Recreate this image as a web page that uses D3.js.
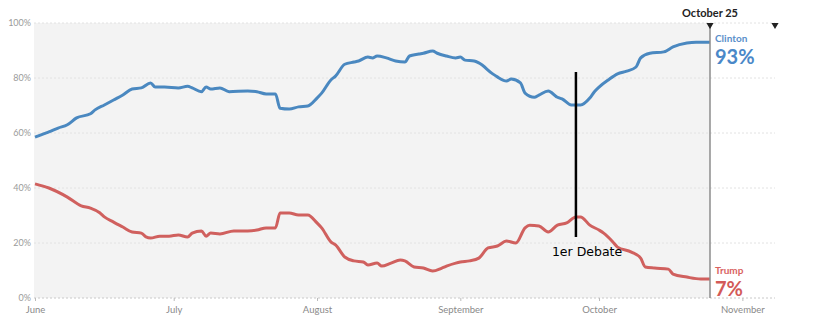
<!DOCTYPE html>
<html><head><meta charset="utf-8">
<script src="https://cdn.jsdelivr.net/npm/d3@7"></script>
<style>body{margin:0;background:#fff}svg{display:block}</style>
</head><body><svg id="c" width="817" height="335"></svg>
<script>
const clintonDates = ["2016-06-01","2016-06-03","2016-06-04","2016-06-06","2016-06-08","2016-06-10","2016-06-13","2016-06-14","2016-06-16","2016-06-18","2016-06-20","2016-06-22","2016-06-24","2016-06-26","2016-06-27","2016-06-29","2016-07-02","2016-07-04","2016-07-05","2016-07-07","2016-07-08","2016-07-09","2016-07-11","2016-07-13","2016-07-17","2016-07-19","2016-07-21","2016-07-23","2016-07-24","2016-07-26","2016-07-28","2016-07-30","2016-08-01","2016-08-02","2016-08-04","2016-08-05","2016-08-07","2016-08-09","2016-08-10","2016-08-12","2016-08-13","2016-08-14","2016-08-16","2016-08-18","2016-08-20","2016-08-21","2016-08-23","2016-08-24","2016-08-26","2016-08-27","2016-08-29","2016-08-31","2016-09-01","2016-09-02","2016-09-04","2016-09-05","2016-09-08","2016-09-09","2016-09-11","2016-09-12","2016-09-14","2016-09-15","2016-09-17","2016-09-18","2016-09-20","2016-09-22","2016-09-23","2016-09-25","2016-09-27","2016-09-29","2016-09-30","2016-10-01","2016-10-03","2016-10-05","2016-10-07","2016-10-09","2016-10-10","2016-10-12","2016-10-15","2016-10-17","2016-10-20","2016-10-22","2016-10-25"];
const clintonValues = [58.5,59.8,60.4,61.8,63,65.5,67,68.4,70.2,72,73.8,76,76.4,78.2,76.7,76.7,76.4,77,76.4,75,76.7,76,76.4,75,75.3,75,74.2,74.2,69,68.7,69.5,69.8,72.7,74.5,79.3,80.7,85,85.8,86.2,87.6,87.3,88,87.3,86.2,85.8,88,88.7,89,89.8,89,88,87.3,87.6,86.5,86.2,85.5,81.5,80.4,78.9,79.6,78.2,74.5,73,73.8,75.3,73,72.4,70.2,70.2,72.7,75,76.7,79.3,81.5,82.5,84,87.3,89,89.5,91.3,92.7,93,93];
const trumpDates = ["2016-06-01","2016-06-04","2016-06-08","2016-06-11","2016-06-13","2016-06-15","2016-06-16","2016-06-18","2016-06-20","2016-06-22","2016-06-24","2016-06-25","2016-06-26","2016-06-28","2016-06-30","2016-07-02","2016-07-04","2016-07-05","2016-07-07","2016-07-08","2016-07-09","2016-07-11","2016-07-14","2016-07-17","2016-07-19","2016-07-21","2016-07-23","2016-07-24","2016-07-26","2016-07-28","2016-07-30","2016-08-01","2016-08-02","2016-08-04","2016-08-05","2016-08-07","2016-08-09","2016-08-11","2016-08-12","2016-08-14","2016-08-15","2016-08-17","2016-08-19","2016-08-20","2016-08-22","2016-08-24","2016-08-26","2016-08-28","2016-08-29","2016-08-31","2016-09-01","2016-09-03","2016-09-05","2016-09-07","2016-09-09","2016-09-11","2016-09-13","2016-09-15","2016-09-16","2016-09-18","2016-09-20","2016-09-22","2016-09-24","2016-09-26","2016-09-27","2016-09-29","2016-10-01","2016-10-02","2016-10-04","2016-10-05","2016-10-08","2016-10-10","2016-10-11","2016-10-13","2016-10-16","2016-10-17","2016-10-20","2016-10-23","2016-10-25"];
const trumpValues = [41.5,40,36.7,33.5,32.7,31,29.5,27.6,25.8,24,23.6,22.2,21.8,22.5,22.5,22.9,22.2,23.6,24.4,22.5,23.6,23.3,24.4,24.4,24.7,25.5,25.5,30.9,30.9,30.2,30.2,27.3,25.5,20.4,19.3,14.9,13.5,13.1,12,12.7,11.6,12.7,13.8,13.5,11.3,10.9,9.8,10.9,11.6,12.7,13.1,13.5,14.5,18.2,18.9,20.7,20,25.5,26.5,26.2,24,26.5,27.3,29.5,29.5,26.5,24.7,23.6,20.4,18.5,16.7,14.5,11.3,10.9,10.5,8.7,7.6,6.9,6.9];
const yTicks = [0,20,40,60,80,100];
const monthTicks = ["2016-06-01","2016-07-01","2016-08-01","2016-09-01","2016-10-01","2016-11-01"];
const monthLabels = ["June","July","August","September","October","November"];
const currentDate = "2016-10-25";
const currentLabel = "October 25";
const debateDate = "2016-09-26";
const debateLabel = "1er Debate";
const clintonName = "Clinton", clintonFinal = "93%";
const trumpName = "Trump", trumpFinal = "7%";

const parse = d3.timeParse("%Y-%m-%d");
const svg = d3.select("#c");
const x = d3.scaleTime().domain([parse("2016-06-01"), parse(currentDate)]).range([35, 710]);
const y = d3.scaleLinear().domain([0,100]).range([298, 23]);
const left = 34, right = 775, cx = x(parse(currentDate));

svg.append("rect").attr("x", left).attr("y", y(100)).attr("width", cx-left).attr("height", y(0)-y(100)).attr("fill", "#f3f3f3");

// gridlines
svg.append("g").selectAll("line").data(yTicks).join("line")
  .attr("x1", left).attr("x2", right).attr("y1", d=>y(d)).attr("y2", d=>y(d))
  .attr("stroke", d => d===0 ? "#c8c8c8" : "#e2e2e2").attr("stroke-width", 1)
  .attr("stroke-dasharray", "2,2");
svg.append("g").selectAll("text").data(yTicks).join("text")
  .attr("x", 31).attr("y", d=>y(d)+3).attr("text-anchor","end")
  .attr("font-family","Lato, 'Open Sans', sans-serif").attr("font-size", 9).attr("fill","#9a9a9a")
  .text(d=>d+"%");

// x axis
const xa = svg.append("g").attr("transform", `translate(0,${y(0)})`)
  .call(d3.axisBottom(x).tickValues(monthTicks.map(parse)).tickSize(3).tickFormat((d,i)=>monthLabels[i]));
xa.select(".domain").remove();
xa.selectAll("line").attr("stroke","#bbb");
xa.selectAll("text").attr("font-family","Lato, 'Open Sans', sans-serif").attr("font-size",9.5).attr("fill","#8a8a8a").attr("dy","0.9em");

// lines
const line = d3.line().x(d=>x(d[0])).y(d=>y(d[1])).curve(d3.curveMonotoneX);
svg.append("path").datum(clintonDates.map((d,i)=>[parse(d), clintonValues[i]]))
  .attr("d", line).attr("fill","none").attr("stroke","#4a88c0").attr("stroke-width",3).attr("stroke-linejoin","round");
svg.append("path").datum(trumpDates.map((d,i)=>[parse(d), trumpValues[i]]))
  .attr("d", line).attr("fill","none").attr("stroke","#d0605e").attr("stroke-width",3).attr("stroke-linejoin","round");

// current date marker
svg.append("line").attr("x1",cx).attr("x2",cx).attr("y1",y(100)).attr("y2",y(0)).attr("stroke","#8c8c8c").attr("stroke-width",1.5);
const tri = d3.symbol().type(d3.symbolTriangle).size(22);
[cx, right].forEach(px => {
  svg.append("path").attr("d", tri()).attr("transform", `translate(${px},${y(100)+2}) rotate(180)`).attr("fill","#222");
});
svg.append("text").attr("x", cx).attr("y", 17).attr("text-anchor","middle")
  .attr("font-family","Lato, 'Open Sans', sans-serif").attr("font-weight","bold").attr("font-size",11).attr("fill","#222").text(currentLabel);

// end labels
const lab = (txt, yy, size, col) => svg.append("text").attr("x", cx+5).attr("y", yy)
  .attr("font-family","Lato, 'Open Sans', sans-serif").attr("font-weight","bold").attr("font-size",size).attr("fill",col).text(txt);
lab(clintonName, 42, 10, "#5a8fca");
lab(clintonFinal, 64, 20, "#4a88c8");
lab(trumpName, 274, 10, "#d9625f");
lab(trumpFinal, 296, 20, "#d35a58");

// debate annotation
const dx = x(parse(debateDate));
svg.append("line").attr("x1",dx).attr("x2",dx).attr("y1",72).attr("y2",237).attr("stroke","#000").attr("stroke-width",2.5);
svg.append("text").attr("x", dx-24).attr("y", 256).attr("font-family","'DejaVu Sans', sans-serif").attr("font-weight","normal").attr("font-size",12.5).attr("fill","#000").text(debateLabel);
</script></body></html>
